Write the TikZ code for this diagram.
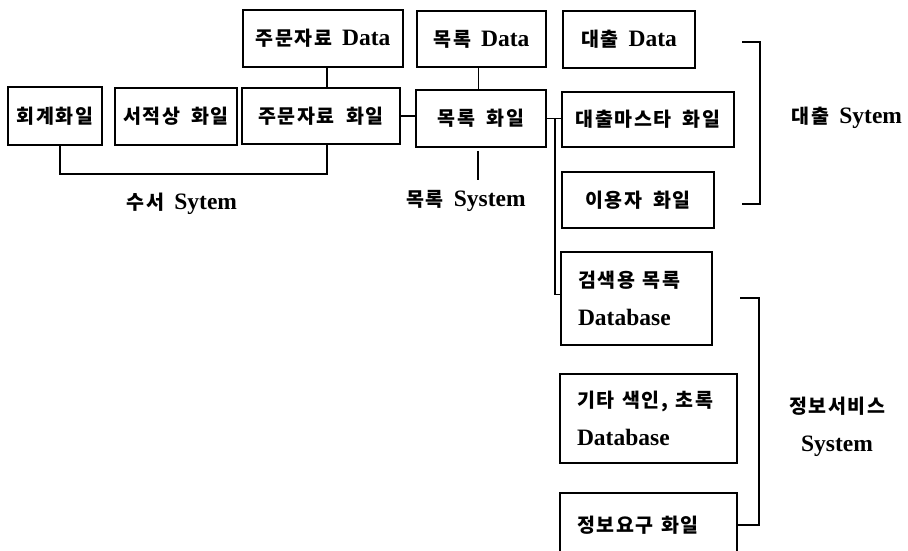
\documentclass[tikz,border=0pt]{standalone}
\usepackage{fontspec}
\setmainfont{Liberation Serif}
\newfontfamily\kr{Noto Sans CJK KR}[LetterSpace=8, WordSpace=1.9]
\newcommand\K[1]{{\kr\fontsize{19.5}{38}\selectfont #1}}
\newcommand\gap{\hspace{10pt}}
\tikzset{
  box/.style={draw, line width=1.9pt, inner sep=0pt, align=center},
  lbox/.style={draw, line width=1.9pt, inner ysep=0pt, inner xsep=17pt, align=left},
  conn/.style={line width=1.9pt},
}
\begin{document}
\begin{tikzpicture}[x=1pt, y=-1pt, font=\fontsize{23.5}{38}\selectfont\bfseries]
\useasboundingbox (0,0) rectangle (908,550);
\clip (0,0) rectangle (908,550);
% top data boxes
\node[box, minimum width=160, minimum height=57] (d1) at (323,38.5) {\K{주문자료}\gap Data};
\node[box, minimum width=129, minimum height=56] (d2) at (481.5,39) {\K{목록}\gap Data};
\node[box, minimum width=132, minimum height=57] (d3) at (629,39.5) {\K{대출}\gap Data};
% file row
\node[box, minimum width=94, minimum height=58] (f1) at (55,116) {\K{회계화일}};
\node[box, minimum width=122, minimum height=57] (f2) at (176,116.5) {\K{서적상 화일}};
\node[box, minimum width=158, minimum height=56] (f3) at (321,116) {\K{주문자료 화일}};
\node[box, minimum width=130, minimum height=57] (f4) at (481,118.5) {\K{목록 화일}};
\node[box, minimum width=172, minimum height=55] (f5) at (648,119.5) {\K{대출마스타 화일}};
\node[box, minimum width=152, minimum height=56] (f6) at (638,200) {\K{이용자 화일}};
% database boxes
\node[lbox, text width=117, minimum height=93] (f7) at (636.5,298.5) {\K{검색용 목록}\\Database};
\node[lbox, text width=143, minimum height=89] (f8) at (648.5,418.5) {\K{기타 색인, 초록}\\Database};
\node[lbox, text width=143, minimum height=64] (f9) at (648.5,525) {\K{정보요구 화일}};
% labels
\node (l1) at (182,204) {\K{수서}\gap Sytem};
\node (l2) at (466,201) {\K{목록}\gap System};
\node (l3) at (847,118) {\K{대출}\gap Sytem};
\node[align=center] (l4) at (837,427) {\K{정보서비스}\\System};
% connectors
\draw[conn] ([xshift=4pt]d1.south) -- ([xshift=4pt]d1.south |- f3.north);
\draw[conn] ([xshift=5pt]f1.south) -- ++(0,28) -| ([xshift=6pt]f3.south);
\draw[conn] (f3.east) -- (f3.east -| f4.west);
\draw[conn] ([xshift=-3pt]d2.south) -- ([xshift=-3pt]d2.south |- f4.north);
\coordinate (m1) at (478,180);
\draw[conn] ([xshift=-3pt,yshift=-3pt]f4.south) -- (m1);
\draw[conn] (f4.east) -- (f4.east -| f5.west);
\draw[conn] ([xshift=8pt]f4.east) |- ([yshift=4pt]f7.west);
\coordinate (b1) at (742,42);
\coordinate (b2) at (742,204);
\draw[conn] (b1) -| ([xshift=18pt]b2) -- (b2);
\coordinate (c1) at (740,298);
\draw[conn] (c1) -| ([xshift=21pt]f9.east) -- (f9.east);
\end{tikzpicture}
\end{document}
